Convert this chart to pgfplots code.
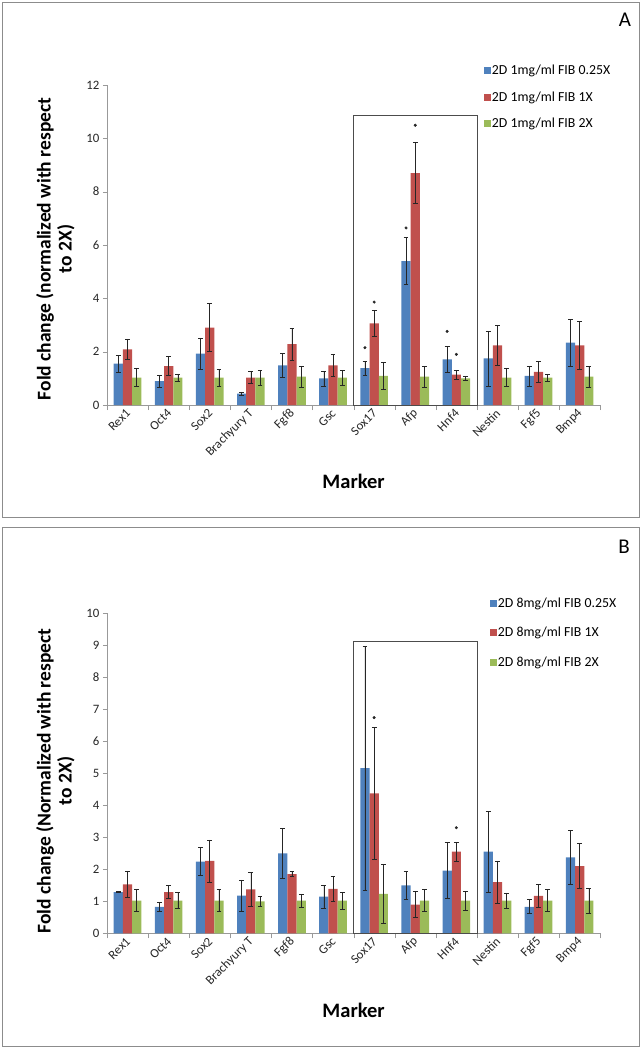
\documentclass[border=0pt]{standalone}
\usepackage{fontspec}
\setmainfont{Carlito}
\usepackage{pgfplots}
\pgfplotsset{compat=1.18}
\definecolor{cb}{HTML}{4F81BD}
\definecolor{cr}{HTML}{C0504D}
\definecolor{cg}{HTML}{9BBB59}
\pgfplotsset{
  panel/.style={
    scale only axis, width=493.2pt, height=320pt,
    xmin=-0.5, xmax=11.5, ymin=0,
    axis x line*=bottom, axis y line*=left,
    axis line style={black!40, -},
    tick align=outside,
    major tick length=4pt, minor tick length=5pt,
    xtick={0,...,11},
    xticklabels={Rex1,Oct4,Sox2,Brachyury T,Fgf8,Gsc,Sox17,Afp,Hnf4,Nestin,Fgf5,Bmp4},
    minor xtick={-0.5,0.5,...,11.5},
    major x tick style={draw=none},
    minor x tick style={black!40},
    ytick style={black!40},
    /pgf/number format/assume math mode=true,
    yticklabel style={font=\fontsize{12.8}{14}\selectfont, text=black!85},
    xticklabel style={rotate=45, anchor=east, font=\fontsize{12.8}{14}\selectfont, text=black!85, inner sep=1pt, yshift=-2pt},
    ybar=0pt, bar width=0.224,
    legend cell align=left,
    error bars/error bar style={line width=0.6pt, black!85},
    error bars/error mark options={rotate=90, mark size=2.4pt, line width=0.6pt, black!85},
  },
  overlay/.style={
    scale only axis, width=493.2pt, height=320pt,
    xmin=-0.5, xmax=11.5, ymin=0, hide axis, clip=false,
  },
  sq/.style={legend image code/.code={\fill[##1, draw=none] (0pt,-3.35pt) rectangle (6.7pt,3.35pt);}},
}
\begin{document}
\begin{tikzpicture}
\useasboundingbox (0pt,0pt) rectangle (642pt,-1049pt);
\draw[black!45, line width=0.8pt] (2.5pt,-2.5pt) rectangle (639.5pt,-517.5pt);
\draw[black!45, line width=0.8pt] (2.5pt,-527.5pt) rectangle (639.5pt,-1046.5pt);
\node[font=\fontsize{21}{24}\selectfont] at (625pt,-20pt) {A};
\node[font=\fontsize{21}{24}\selectfont] at (624pt,-547pt) {B};

% ---------------- Panel A
\begin{axis}[panel, at={(107pt,-405pt)}, anchor=south west,
  ymax=12, ytick={0,2,...,12},
  ylabel={Fold change (normalized with respect\\to 2X)},
  ylabel style={at={(axis description cs:-0.1045,0.4875)}, anchor=center, align=center, font=\bfseries\fontsize{19.5}{21}\selectfont},
  xlabel={Marker},
  xlabel style={at={(axis description cs:0.5,-0.2375)}, anchor=center, font=\bfseries\fontsize{20.5}{24}\selectfont},
  legend style={at={(0.7644,1.066)}, anchor=north west, draw=none, fill=none, inner sep=0pt,
    font=\fontsize{13.8}{16}\selectfont, row sep=13.5pt, nodes={inner sep=1pt}},
]
\addplot[sq, fill=cb, draw=none, error bars/.cd, y dir=both, y explicit] coordinates {
 (0,1.55) +- (0,0.32) (1,0.90) +- (0,0.22) (2,1.93) +- (0,0.59) (3,0.43) +- (0,0.06)
 (4,1.49) +- (0,0.44) (5,1.00) +- (0,0.28) (6,1.38) +- (0,0.25) (7,5.40) +- (0,0.88)
 (8,1.71) +- (0,0.50) (9,1.75) +- (0,1.03) (10,1.09) +- (0,0.37) (11,2.34) +- (0,0.87)};
\addplot[sq, fill=cr, draw=none, error bars/.cd, y dir=both, y explicit] coordinates {
 (0,2.09) +- (0,0.39) (1,1.46) +- (0,0.35) (2,2.90) +- (0,0.90) (3,1.03) +- (0,0.22)
 (4,2.28) +- (0,0.60) (5,1.49) +- (0,0.41) (6,3.06) +- (0,0.50) (7,8.70) +- (0,1.14)
 (8,1.14) +- (0,0.17) (9,2.24) +- (0,0.76) (10,1.24) +- (0,0.39) (11,2.24) +- (0,0.89)};
\addplot[sq, fill=cg, draw=none, error bars/.cd, y dir=both, y explicit] coordinates {
 (0,1.03) +- (0,0.34) (1,1.03) +- (0,0.13) (2,1.03) +- (0,0.31) (3,1.03) +- (0,0.28)
 (4,1.06) +- (0,0.38) (5,1.03) +- (0,0.28) (6,1.09) +- (0,0.50) (7,1.06) +- (0,0.40)
 (8,1.00) +- (0,0.06) (9,1.03) +- (0,0.33) (10,1.03) +- (0,0.13) (11,1.06) +- (0,0.38)};
\legend{2D 1mg/ml FIB 0.25X, 2D 1mg/ml FIB 1X, 2D 1mg/ml FIB 2X}
\end{axis}
\begin{axis}[overlay, at={(107pt,-405pt)}, anchor=south west, ymax=12]
\addplot[only marks, mark=*, mark size=1.3pt, black!85] coordinates {
 (5.776,2.15) (6,3.86) (6.776,6.64) (7,10.49) (7.776,2.76) (8,1.90)};
\draw[black!70, line width=0.8pt] (axis cs:5.5,0) rectangle (axis cs:8.5,10.87);
\end{axis}

% ---------------- Panel B
\begin{axis}[panel, at={(107pt,-933.3pt)}, anchor=south west,
  ymax=10, ytick={0,1,...,10},
  ylabel={Fold change (Normalized with respect\\to 2X)},
  ylabel style={at={(axis description cs:-0.1045,0.476)}, anchor=center, align=center, font=\bfseries\fontsize{19.5}{21}\selectfont},
  xlabel={Marker},
  xlabel style={at={(axis description cs:0.5,-0.241)}, anchor=center, font=\bfseries\fontsize{20.5}{24}\selectfont},
  legend style={at={(0.7766,1.052)}, anchor=north west, draw=none, fill=none, inner sep=0pt,
    font=\fontsize{13.8}{16}\selectfont, row sep=16.3pt, nodes={inner sep=1pt}},
]
\addplot[sq, fill=cb, draw=none, error bars/.cd, y dir=both, y explicit] coordinates {
 (0,1.29) +- (0,0.02) (1,0.83) +- (0,0.13) (2,2.24) +- (0,0.44) (3,1.18) +- (0,0.49)
 (4,2.50) +- (0,0.78) (5,1.15) +- (0,0.36) (6,5.16) +- (0,3.81) (7,1.50) +- (0,0.43)
 (8,1.96) +- (0,0.88) (9,2.55) +- (0,1.26) (10,0.83) +- (0,0.22) (11,2.37) +- (0,0.85)};
\addplot[sq, fill=cr, draw=none, error bars/.cd, y dir=both, y explicit] coordinates {
 (0,1.53) +- (0,0.42) (1,1.29) +- (0,0.21) (2,2.26) +- (0,0.66) (3,1.37) +- (0,0.53)
 (4,1.85) +- (0,0.08) (5,1.39) +- (0,0.38) (6,4.37) +- (0,2.06) (7,0.90) +- (0,0.40)
 (8,2.55) +- (0,0.29) (9,1.60) +- (0,0.66) (10,1.17) +- (0,0.35) (11,2.10) +- (0,0.70)};
\addplot[sq, fill=cg, draw=none, error bars/.cd, y dir=both, y explicit] coordinates {
 (0,1.02) +- (0,0.34) (1,1.02) +- (0,0.25) (2,1.02) +- (0,0.34) (3,1.00) +- (0,0.15)
 (4,1.02) +- (0,0.21) (5,1.02) +- (0,0.26) (6,1.23) +- (0,0.92) (7,1.02) +- (0,0.34)
 (8,1.02) +- (0,0.30) (9,1.02) +- (0,0.24) (10,1.02) +- (0,0.34) (11,1.02) +- (0,0.39)};
\legend{2D 8mg/ml FIB 0.25X, 2D 8mg/ml FIB 1X, 2D 8mg/ml FIB 2X}
\end{axis}
\begin{axis}[overlay, at={(107pt,-933.3pt)}, anchor=south west, ymax=10]
\addplot[only marks, mark=*, mark size=1.3pt, black!85] coordinates {(6,6.74) (8,3.30)};
\draw[black!70, line width=0.8pt] (axis cs:5.5,0) rectangle (axis cs:8.5,9.11);
\end{axis}
\end{tikzpicture}
\end{document}
